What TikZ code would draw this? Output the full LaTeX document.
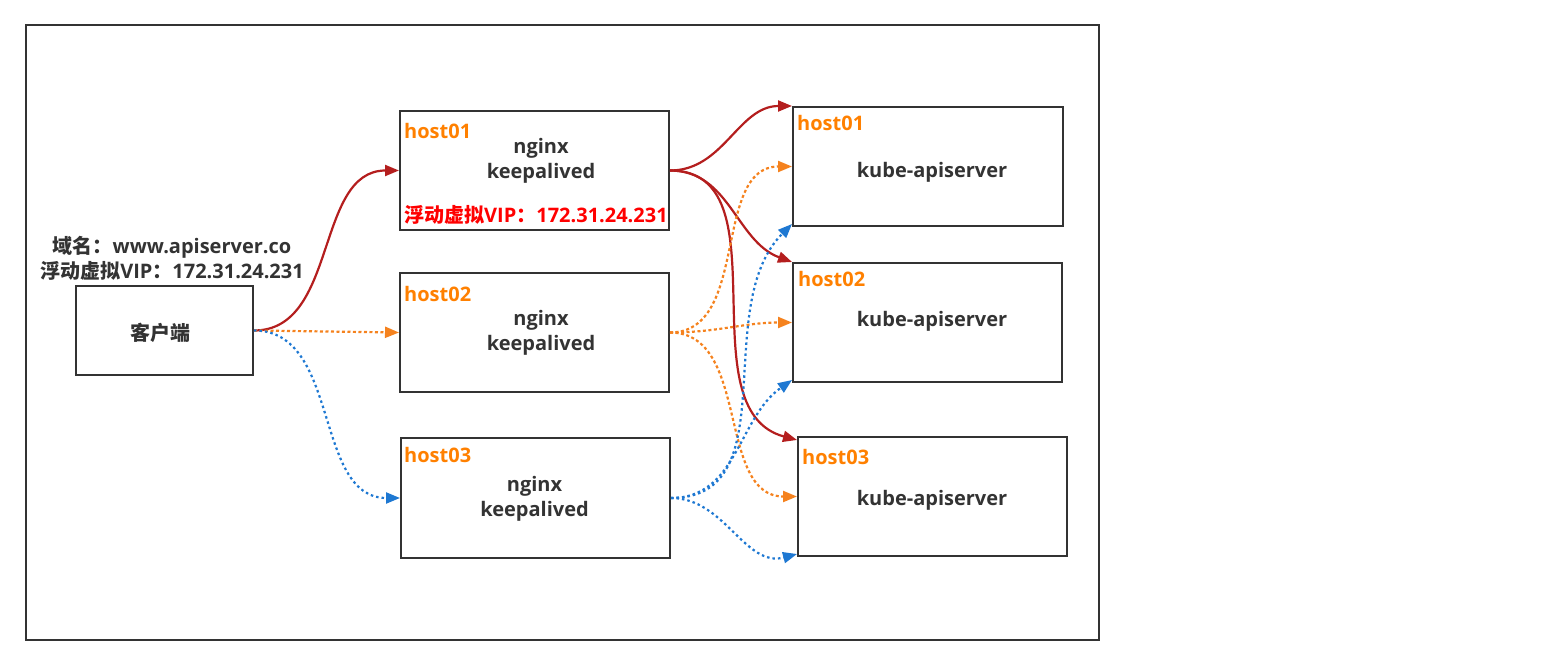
\documentclass[tikz,border=0pt]{standalone}
\usepackage{fontspec}
\setmainfont{Open Sans}
\newfontfamily\cjk{Noto Sans CJK SC}
\usetikzlibrary{arrows.meta, positioning, calc}
\definecolor{txtgray}{RGB}{51,51,51}
\definecolor{linered}{RGB}{180,30,30}
\definecolor{lineorange}{RGB}{245,130,30}
\definecolor{lineblue}{RGB}{30,120,210}
\definecolor{taggold}{RGB}{255,128,0}
\definecolor{vipred}{RGB}{255,0,0}

\begin{document}
\begin{tikzpicture}[
    x=1pt, y=-1pt,
    box/.style={rectangle, draw=txtgray, line width=2pt, inner sep=0pt, minimum width=269pt, minimum height=119pt},
    label/.style={font=\bfseries\fontsize{20}{25}\selectfont, text=txtgray, align=center, inner sep=0pt},
    tag/.style={font=\bfseries\fontsize{20}{23}\selectfont, text=taggold, anchor=west, inner sep=0pt},
    link/.style={line width=2.2pt, -{Triangle[length=14pt,width=11pt]}},
    redlink/.style={link, draw=linered},
    orangelink/.style={link, draw=lineorange, dash pattern=on 3pt off 2.5pt},
    bluelink/.style={link, draw=lineblue, dash pattern=on 2.5pt off 3pt}
]
    \useasboundingbox (0,0) rectangle (1556,666);
    \draw[draw=txtgray, line width=1.5pt] (26,25) rectangle (1099,640);

    % client
    \node[box, minimum width=177pt, minimum height=89pt] (client) at (164.5,330.5) {};
    \node[label] (client_txt) at (160,333) {\cjk 客户端};
    \node[label] (domain) at (172,258.5) {{\cjk 域名：}www.apiserver.co\\{\cjk 浮动虚拟}VIP{\cjk ：}172.31.24.231};

    % nginx hosts
    \node[box] (ng1) at (534.5,170.5) {};
    \node[box] (ng2) at (534.5,332.5) {};
    \node[box, minimum height=120pt] (ng3) at (535.5,498) {};
    \node[label] (ng1_txt) at (541,161) {nginx\\keepalived};
    \node[label] (ng2_txt) at (541,333) {nginx\\keepalived};
    \node[label] (ng3_txt) at (534.5,499) {nginx\\keepalived};
    \node[tag] (ng1_tag) at (404,131) {host01};
    \node[tag] (ng2_tag) at (404,294) {host02};
    \node[tag] (ng3_tag) at (404,455) {host03};
    \node[tag, text=vipred] (vip) at (404,215) {{\cjk 浮动虚拟}VIP{\cjk ：}172.31.24.231};

    % kube-apiserver hosts
    \node[box, minimum width=270pt] (kb1) at (928,166.5) {};
    \node[box] (kb2) at (927.5,322.5) {};
    \node[box] (kb3) at (932.5,496.5) {};
    \node[label] (kb1_txt) at (932,172) {kube-apiserver};
    \node[label] (kb2_txt) at (932,321) {kube-apiserver};
    \node[label] (kb3_txt) at (932,500) {kube-apiserver};
    \node[tag] (kb1_tag) at (797,123) {host01};
    \node[tag] (kb2_tag) at (798,279) {host02};
    \node[tag] (kb3_tag) at (802,457) {host03};

    % client to nginx
    \draw[redlink] (client.east) to[out=0, in=180] (ng1.west);
    \draw[orangelink] (client.east) -- (ng2.west);
    \draw[bluelink] (client.east) to[out=0, in=180] (ng3.west);

    % nginx to kube-apiserver
    \draw[redlink] (ng1.east) to[out=0, in=180] (kb1.north west);
    \draw[redlink] (ng1.east) to[out=0, in=160] (kb2.north west);
    \draw[redlink] (ng1.east) to[out=0, in=165] ([yshift=-4pt]kb3.north west);
    \draw[orangelink] (ng2.east) to[out=0, in=180] (kb1.west);
    \draw[orangelink] (ng2.east) to[out=0, in=180] (kb2.west);
    \draw[orangelink] (ng2.east) to[out=0, in=180] (kb3.west);
    \draw[bluelink] (ng3.east) to[out=0, in=225] ([yshift=3pt]kb1.south west);
    \draw[bluelink] (ng3.east) to[out=0, in=215] ([yshift=3pt]kb2.south west);
    \draw[bluelink] (ng3.east) to[out=0, in=195] ([yshift=3pt]kb3.south west);
\end{tikzpicture}
\end{document}
